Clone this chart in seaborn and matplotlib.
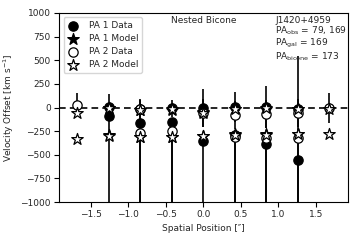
import numpy as np
import pandas as pd
import seaborn as sns
import matplotlib.pyplot as plt

nan = np.nan

# spatial positions of the extraction apertures
pos = [-1.68, -1.26, -0.84, -0.42, 0.0, 0.42, 0.84, 1.26, 1.68]

# PA 1 data, two components (km/s) and errors
pa1_v1 = [nan, 10, -20, -10, -5, 8, 8, -15, nan]
pa1_e1 = [nan, 133, 110, 89, 202, 160, 223, 565, nan]
pa1_v2 = [nan, -85, -160, -150, -350, -290, -390, -560, nan]
pa1_lo2 = [nan, 1000, 900, 900, 700, 750, 650, 500, nan]

# PA 1 model
pa1_m1 = [nan, 0, -30, -25, -50, -20, -15, -20, nan]
pa1_m2 = [nan, -290, -315, -315, -300, -285, -285, -280, nan]

# PA 2 data
pa2_v1 = [30, nan, -18, nan, -55, -80, -70, -60, -5]
pa2_e1 = [124, nan, 100, nan, 150, 150, 150, 150, 155]
pa2_v2 = [nan, nan, -265, -250, nan, -315, -320, -320, nan]
pa2_lo2 = [nan, nan, 800, 800, nan, 750, 750, 750, nan]

# PA 2 model
pa2_m1 = [-60, -5, -29, -20, -61, -18, -10, -18, -18]
pa2_m2 = [-328, -303, -314, -314, -296, -286, -286, -278, -275]

labels = ["PA 1 Data", "PA 1 Model", "PA 2 Data", "PA 2 Model"]

#%%
rows = []
for lab, comps in zip(labels, [(pa1_v1, pa1_v2), (pa1_m1, pa1_m2),
                               (pa2_v1, pa2_v2), (pa2_m1, pa2_m2)]):
    for comp in comps:
        for x, v in zip(pos, comp):
            rows.append({"pos": x, "vel": v, "series": lab})
df = pd.DataFrame(rows).dropna()

#%%
sns.set_style("ticks")
plt.rcParams["font.family"] = ["DejaVu Sans"]
plt.rcParams["mathtext.default"] = "regular"

fig = plt.figure(figsize=(3.6, 2.4), dpi=100)
ax = fig.add_axes([0.164, 0.158, 0.803, 0.788])

for v, e in [(pa1_v1, pa1_e1), (pa2_v1, pa2_e1)]:
    ax.errorbar(pos, v, yerr=e, fmt="none", ecolor="k", elinewidth=1.2,
                capsize=0, zorder=1)
for v, lo in [(pa1_v2, pa1_lo2), (pa2_v2, pa2_lo2)]:
    ax.errorbar(pos, v, yerr=[lo, np.zeros(len(lo))], fmt="none", ecolor="k",
                elinewidth=1.2, capsize=0, zorder=1)

ax.axhline(0, color="k", ls="--", lw=1.2, dashes=(4, 2.5), zorder=1.5)

face = {"PA 1 Data": "black", "PA 1 Model": "black",
        "PA 2 Data": "white", "PA 2 Model": "white"}
mk = {"PA 1 Data": "o", "PA 1 Model": "*", "PA 2 Data": "o", "PA 2 Model": "*"}
sz = {"PA 1 Data": 45, "PA 1 Model": 75, "PA 2 Data": 45, "PA 2 Model": 75}
for lab in labels:
    d = df[df["series"] == lab]
    sns.scatterplot(x=d["pos"], y=d["vel"], marker=mk[lab], color=face[lab],
                    s=sz[lab], edgecolor="black", linewidth=0.9, zorder=3,
                    label=lab, ax=ax)

ax.set_xlim(-1.92, 1.93)
ax.set_ylim(-1000, 1000)
ax.set_xticks([-1.5, -1.0, -0.5, 0.0, 0.5, 1.0, 1.5])
ax.set_yticks([-1000, -750, -500, -250, 0, 250, 500, 750, 1000])
ax.tick_params(labelsize=6.5, length=3.5, width=0.8, color="k", pad=2.5)
for sp in ax.spines.values():
    sp.set_color("k")
    sp.set_linewidth(0.8)
ax.set_xlabel("Spatial Position [″]", fontsize=6.5, labelpad=3)
ax.set_ylabel("Velocity Offset [km s$^{-1}$]", fontsize=6.5, labelpad=3)

leg = ax.legend(loc="upper left", fontsize=6.5, frameon=True,
                handletextpad=1.0, borderpad=0.4, labelspacing=0.45,
                handlelength=1.4, markerscale=1.0)
leg.get_frame().set_edgecolor("#cccccc")

ax.text(0.5, 0.985, "Nested Bicone", transform=ax.transAxes, ha="center",
        va="top", fontsize=6.5)
ax.text(0.748, 0.985,
        "J1420+4959\nPA$_{obs}$ = 79, 169\nPA$_{gal}$ = 169\nPA$_{bicone}$ = 173",
        transform=ax.transAxes, ha="left", va="top", fontsize=6.5,
        linespacing=1.0)

fig.savefig("out.png", dpi=100)
